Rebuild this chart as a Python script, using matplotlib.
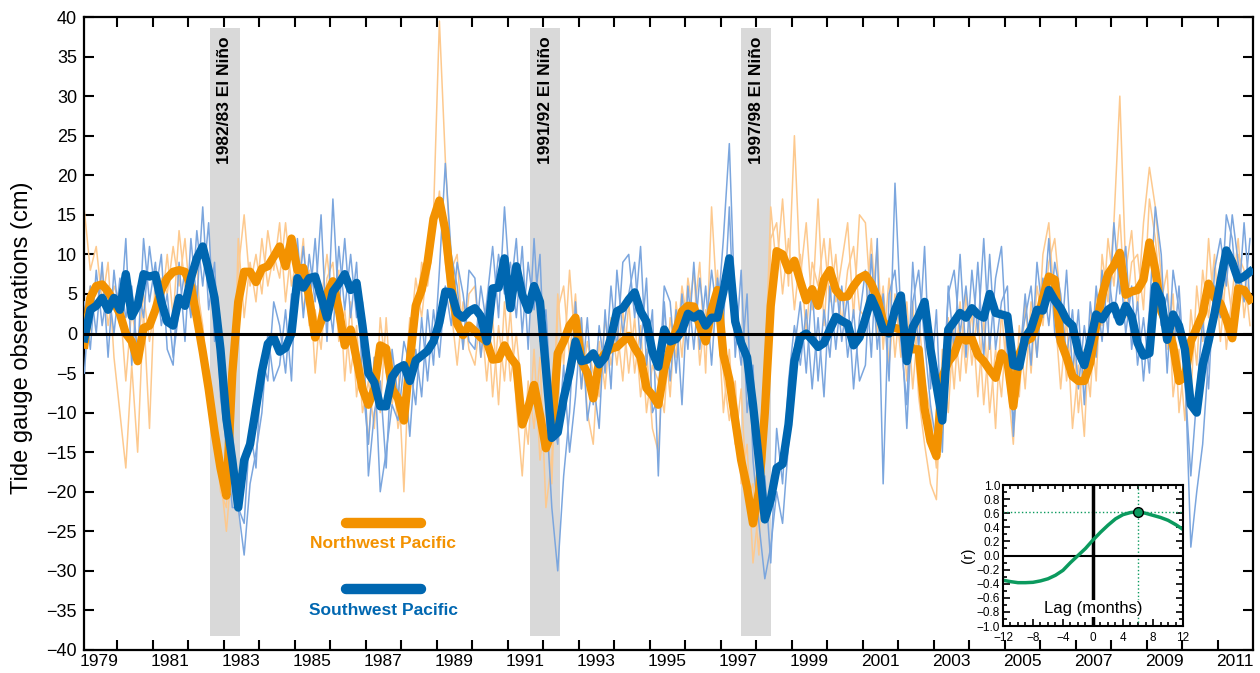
import numpy as np
import matplotlib.pyplot as plt
from matplotlib.ticker import MultipleLocator, FixedLocator, FuncFormatter

plt.rcParams['font.family'] = ['Liberation Sans', 'DejaVu Sans']

# Tide gauge anomalies (cm), one sample every two months from Feb 1979
nw_mean = [
    -1.4, 4.5, 6.0, 6.2, 5.3, 4.0, 2.5, 0.0, -1.0, -3.5, 0.7, 1.0, 3.0, 5.5, 7.0, 7.8, 8.0,
    7.8, 6.0, 2.0, -2.3, -7.0, -12.4, -17.0, -20.5, -5.0, 4.0, 7.8, 7.8, 6.5, 8.2, 8.5, 9.7,
    11.0, 8.5, 12.0, 8.0, 8.3, 4.5, -0.5, 1.5, 5.0, 6.6, 3.0, -1.5, 0.5, -3.2, -7.0, -9.0, -7.0,
    -1.5, -1.9, -7.0, -8.2, -11.0, -3.5, 3.5, 5.5, 9.0, 14.5, 16.8, 13.0, 6.1, 1.2, -0.2, 1.0,
    0.3, -0.5, -1.0, -3.3, -3.2, -1.5, -3.0, -4.0, -11.5, -9.4, -6.5, -10.3, -14.5, -12.5, -2.5, -1.0, 1.0,
    2.0, -3.5, -5.0, -8.2, -3.5, -2.5, -1.9, -1.7, -1.0, -0.3, -1.8, -3.0, -6.9, -7.8, -9.0, -4.5,
    -1.9, 0.4, 2.8, 3.5, 3.4, 1.0, -1.0, 3.0, 5.5, -2.7, -5.8, -11.0, -16.0, -19.5, -24.0, -20.0, -10.0,
    3.5, 10.4, 10.0, 8.0, 9.2, 6.6, 4.2, 5.6, 3.5, 6.8, 8.0, 5.5, 4.6, 4.7, 6.0, 7.0,
    7.4, 6.3, 4.5, 1.5, 0.7, 0.7, 0.5, -0.8, -2.0, -2.0, -9.5, -13.6, -15.5, -5.5, -3.6, -2.6, -0.4,
    -0.9, -0.7, -2.7, -3.5, -4.6, -5.6, -2.5, -3.5, -9.2, -2.6, -1.0, -0.6, 1.2, 4.5, 7.2, 6.8,
    -1.0, -3.0, -5.4, -6.0, -6.0, -3.7, 1.0, 4.8, 7.5, 8.6, 10.2, 4.9, 5.3, 5.5, 6.8, 11.5, 8.0,
    2.8, 1.1, -1.5, -6.0, -5.5, -1.0, 0.7, 2.5, 6.3, 4.5, 3.8, 1.8, -0.6, 5.7, 5.5, 4.3,
]
sw_mean = [
    -0.6, 3.0, 3.5, 4.5, 3.0, 4.5, 3.0, 7.5, 2.2, 3.6, 7.5, 7.2, 7.4, 4.0, 1.5, 1.0, 4.5,
    3.5, 7.0, 9.5, 11.0, 8.0, 4.5, -2.0, -10.8, -16.0, -22.0, -16.0, -14.0, -9.4, -4.8, -1.3, -0.5,
    -2.3, -1.8, 0.0, 7.0, 5.8, 7.0, 7.2, 4.7, 2.0, 5.3, 6.3, 7.5, 5.5, 6.4, 1.0, -5.0, -6.2,
    -9.2, -9.2, -5.5, -4.4, -4.0, -6.0, -3.4, -2.8, -2.2, -1.0, 1.4, 5.3, 5.2, 2.6, 2.0, 2.8,
    3.2, 2.2, -1.0, 5.7, 5.8, 9.5, 3.2, 8.5, 4.9, 3.0, 6.0, 4.0, -4.5, -13.2, -12.5, -8.2, -5.0,
    -1.0, -3.5, -3.3, -2.5, -3.9, -3.0, -0.5, 2.8, 3.2, 4.3, 5.2, 2.8, 1.5, -2.3, -4.2, 0.5,
    -1.0, -0.7, 0.4, 2.5, 2.0, 2.5, 1.0, 2.0, 2.0, 5.3, 9.5, 1.5, -1.2, -3.0, -9.0, -16.0, -23.5,
    -21.0, -17.0, -16.5, -11.5, -3.5, -0.5, 0.0, -0.8, -1.7, -1.2, 0.5, 2.1, 1.6, 1.2, -1.5, -0.5,
    1.9, 4.5, 2.8, 0.5, 0.0, 3.0, 4.8, -3.5, 0.8, 2.2, 4.0, -2.0, -6.5, -11.0, 0.5, 1.5, 2.6,
    2.0, 3.2, 2.4, 2.0, 5.0, 2.6, 2.4, 2.2, -4.0, -4.2, -0.5, 0.6, 3.0, 2.9, 5.5, 4.2,
    3.2, 1.7, 1.0, -2.3, -4.0, -1.0, 2.4, 1.8, 3.0, 3.5, 1.5, 3.5, 2.2, -1.2, -2.8, -2.5, 6.0,
    4.3, -0.8, 2.4, 1.0, -2.0, -9.0, -10.0, -4.0, -1.0, 2.5, 6.5, 10.5, 9.0, 6.8, 7.2, 7.8,
]

# individual stations
nw_gauge_a = [
    15.5, 8, 11, 4, 9, -3, -10, -17, -4, -15, 3, -12, 8, 3, 10, 2, 13,
    6, 4, 9, -4, -5, -14, -18, -25, -16, 12, 2, 9, 4, 12, 6, 10,
    7, 14, 6, 10, 3, 8, -5, 4, 10, 3, 8, -6, 4, -8, -2, -14, -3,
    -10, 2, -9, -4, -20, -1, 7, 2, 9, 15, 39.5, 22, 8, 10, -2, 5,
    6, -3, 4, -8, 1, -6, 3, -9, -18, -6, -12, -3, -22, -16, 5, -4, 8,
    -2, 2, -10, -14, -1, -7, 2, -4, 3, -5, 2, -8, -2, -12, -15, 0,
    -8, 4, -3, 7, 2, 9, -5, 16, 3, -10, -2, -14, -7, -21, -19, -28, -6,
    16, 8, 17, 6, 25, 7, 14, 3, 17, 1, 12, 4, 9, 14, 2, 15,
    14, 3, 11, -2, 7, -3, 5, -6, 4, -8, -14, -19, -21, -2, -10, 2, -6,
    5, -4, 3, -9, 0, -12, 3, -6, -14, 1, -7, 4, -3, 10, 14, 3,
    -7, 2, -12, -4, -13, 3, -6, 10, 4, 14, 30, 8, 13, 3, 14, 21, 16,
    7, -2, 5, -10, -3, -8, 6, -1, 12, 2, 9, -2, 5, 12, 2, 8,
]
nw_gauge_b = [
    2, 6, 3, 8, 1, 6, 4, -6, 3, -2, 5, -1, 4, 7, 5, 11, 6,
    12, 3, 6, 1, -8, -10, -20, -22, -8, 8, 15, 6, 10, 5, 13, 8,
    14, 4, 11, 5, 12, 1, 3, -2, 7, 9, -1, 3, -5, 1, -10, -6, -12,
    2, -5, -3, -12, -8, 2, 0, 9, 6, 12, 18, 9, 3, -4, 4, -2,
    -4, 3, -6, 2, -9, 4, -6, 0, -8, -14, -2, -16, -10, -19, 3, 6, -3,
    5, -7, -1, -5, -8, 2, -4, 1, -6, 4, -5, 1, -10, -4, -6, -10,
    2, -3, 6, 1, 8, -4, 3, 0, 8, -5, -11, -6, -19, -14, -29, -22, -16,
    12, 14, 5, 12, 3, 10, 0, 9, 6, 12, 4, 10, 1, 8, 11, 3,
    2, 12, 0, 6, -4, 5, -3, 4, -7, 2, -6, -10, -17, -9, 2, -7, 4,
    -5, 3, -8, 2, -10, -2, -8, 2, -5, -8, 4, -5, 6, 1, 9, 12,
    4, -6, 1, -10, -2, -8, 5, 1, 12, 6, 15, 2, 9, 10, 3, 17, 12,
    4, 8, -8, -2, -11, 3, -4, 8, 2, 10, -1, 8, 2, 10, 8, 1,
]
sw_gauge_a = [
    -5, 6, 0, 9, -3, 8, 1, 12, -4, 6, 2, 11, 5, 10, -2, -4, 9,
    -1, 12, 4, 16, 3, 9, -8, -14, -22, -22, -28, -19, -15, -10, 0, -6,
    -4, 3, -6, 12, 2, 10, 4, 15, -1, 17, 3, 12, 2, 9, -6, -14, -3,
    -20, -15, -9, -11, -4, -13, -2, -8, 3, -4, 8, 21.5, 10, 6, -2, 8,
    7, -3, 4, 11, 2, 16, 5, 12, 0, 9, 3, 10, -9, -22, -30, -18, -10,
    4, -7, 2, -9, 1, -5, 6, -2, 9, 10, 2, 11, -4, 3, -18, 4,
    -6, 3, -9, 6, -2, 7, 0, 8, 2, 12, 24, 2, -4, 5, -16, -24, -31,
    -27, -20, -24, -14, -2, 4, -5, 6, -6, 3, -3, 7, -1, 5, -7, 2,
    8, -3, 12, -19, 5, 8, -1, -9, 9, -2, 11, -7, 3, -15, 6, -2, 10,
    -3, 8, 0, 12, -2, 7, 11, -3, -11, -4, 5, -4, 9, 2, 12, 0,
    -2, 8, -5, 3, -9, 4, -3, 8, 0, 14, 5, 11, -2, 4, -6, 3, 16,
    10, -5, 8, 3, -4, -27, -20, -14, -3, 6, 2, 15, 12, 3, 14, 4,
]
sw_gauge_b = [
    4, -2, 8, 1, 6, 0, 7, 2, 6, -3, 12, 4, 9, 1, 5, -3, 3,
    8, 2, 13, 6, 14, -1, 1, -16, -12, -22, -24, -12, -17, -3, -6, 4,
    1, -5, 5, 4, 11, 3, 12, 1, 6, 0, 11, 3, 10, 2, 4, -18, -10,
    -6, -17, -2, -8, -1, -4, -9, 2, -6, 3, -3, 6, 1, 9, 5, -1,
    -2, 6, 1, 3, 10, 5, 9, 2, 11, -2, 12, -1, 3, -10, -14, -4, -15,
    -8, 2, -11, -6, -12, 3, -7, 8, 0, 5, 9, -2, 7, -10, -8, 6,
    4, -5, 5, -2, 9, -2, 6, -4, 7, 1, 16, -3, 8, -10, -4, -22, -18,
    -29, -12, -19, -6, 1, -4, 3, -7, 2, -8, 6, -2, 6, -3, 3, -6,
    -4, 10, -2, 5, -6, 19, 2, -12, 4, 8, -1, -9, -14, -8, 5, 8, 0,
    6, -2, 9, -3, 10, -2, 4, 6, -13, -2, 2, 6, -3, 7, 1, 9,
    5, -3, 3, -7, 1, -5, 6, -1, 8, 2, 9, 0, 6, -4, 2, -5, 10,
    1, 5, -3, 6, -6, -18, -8, 2, -7, 8, 12, 6, 15, 9, 4, 12,
]

ninos = [('1982/83 El Niño', 1982.62, 1983.45),
         ('1991/92 El Niño', 1991.63, 1992.48),
         ('1997/98 El Niño', 1997.58, 1998.42)]

# lagged correlation NW vs SW
lags = np.arange(-12, 13)
corr = [-0.35, -0.37, -0.385, -0.385, -0.38, -0.36, -0.33, -0.28, -0.21, -0.10,
        0.0, 0.10, 0.22, 0.33, 0.43, 0.52, 0.58, 0.61, 0.62, 0.60,
        0.57, 0.54, 0.50, 0.44, 0.37]
peak_lag, peak_r = 6, 0.62

orange = '#F39200'
blue = '#0067B1'
orange_lt = '#FDC98E'
blue_lt = '#7BA6DE'
green = '#0B9A5E'

t = 1979.08 + np.arange(len(nw_mean)) / 6

fig = plt.figure(figsize=(12.6, 6.73), dpi=100)
ax = fig.add_axes([0.0667, 0.0342, 0.9278, 0.9405])

for label, x0, x1 in ninos:
    ax.fill_between([x0, x1], -38.2, 38.6, color='#D9D9D9', lw=0, zorder=0)
    ax.text((x0 + x1) / 2, 37.5, label, rotation=90, ha='center', va='top',
            fontsize=12.5, fontweight='bold', zorder=1)

ax.plot(t, nw_gauge_a, color=orange_lt, lw=1.1, zorder=2)
ax.plot(t, nw_gauge_b, color=orange_lt, lw=1.1, zorder=2)
ax.plot(t, sw_gauge_a, color=blue_lt, lw=1.1, zorder=3)
ax.plot(t, sw_gauge_b, color=blue_lt, lw=1.1, zorder=3)
ax.plot(t, nw_mean, color=orange, lw=6, zorder=4)
ax.plot(t, sw_mean, color=blue, lw=6, zorder=5)
ax.axhline(0, color='black', lw=2.2, zorder=6)

# legend drawn by hand: line with caption underneath
ax.plot([1986.45, 1988.56], [-23.95, -23.95], color=orange, lw=7.5, solid_capstyle='round')
ax.text(1987.5, -26.5, 'Northwest Pacific', color=orange, fontsize=12.5,
        fontweight='bold', ha='center', va='center')
ax.plot([1986.45, 1988.56], [-32.3, -32.3], color=blue, lw=7.5, solid_capstyle='round')
ax.text(1987.5, -35.0, 'Southwest Pacific', color=blue, fontsize=12.5,
        fontweight='bold', ha='center', va='center')

ax.set_xlim(1979.07, 2012.0)
ax.set_ylim(-40, 40)
ax.xaxis.set_major_locator(FixedLocator(np.arange(1980, 2012)))
ax.xaxis.set_minor_locator(FixedLocator(np.arange(1979, 2012, 2) + 0.5))
ax.xaxis.set_major_formatter(FuncFormatter(lambda v, p: ''))
ax.xaxis.set_minor_formatter(FuncFormatter(lambda v, p: str(int(v))))
ax.set_yticks(np.arange(-40, 41, 5))
ax.tick_params(axis='x', which='major', direction='in', length=7, width=1.5,
               top=True, bottom=True)
ax.tick_params(axis='x', which='minor', length=0, labelsize=12.5, pad=3)
ax.tick_params(axis='y', direction='in', length=7, width=1.5, right=True,
               labelsize=13, pad=5)
for s in ax.spines.values():
    s.set_linewidth(1.6)
fig.text(0.0175, 0.4985, 'Tide gauge observations (cm)', rotation=90,
         ha='center', va='center', fontsize=17)

# inset: lag correlation
ins = fig.add_axes([0.796, 0.0698, 0.1429, 0.2095])
ins.axhline(peak_r, color=green, ls=':', lw=1)
ins.axvline(peak_lag, color=green, ls=':', lw=1)
ins.axhline(0, color='black', lw=1.5)
ins.axvline(0, color='black', lw=2.5)
ins.plot(lags, corr, color=green, lw=2.5)
ins.plot(peak_lag, peak_r, 'o', mfc=green, mec='black', mew=1, ms=7)
ins.text(0, -0.75, 'Lag (months)', ha='center', va='center', fontsize=12,
         bbox=dict(fc='white', ec='none', pad=1))
ins.set_xlim(-12, 12)
ins.set_ylim(-1, 1)
ins.xaxis.set_major_locator(MultipleLocator(4))
ins.xaxis.set_minor_locator(MultipleLocator(1))
ins.yaxis.set_major_locator(MultipleLocator(0.2))
ins.yaxis.set_minor_locator(MultipleLocator(0.1))
ins.xaxis.set_major_formatter(FuncFormatter(lambda v, p: f'{int(round(v))}'.replace('-', '\u2212')))
ins.yaxis.set_major_formatter(FuncFormatter(
    lambda v, p: f'{round(v, 1) + 0.0:.1f}'.replace('-', '\u2212')))
ins.tick_params(which='both', direction='in', top=True, right=True, width=1.2,
                labelsize=8.5)
ins.tick_params(axis='x', pad=4)
ins.tick_params(axis='y', pad=2)
ins.tick_params(which='major', length=5)
ins.tick_params(which='minor', length=3)
ins.set_ylabel('(r)', fontsize=11, labelpad=1)
for s in ins.spines.values():
    s.set_linewidth(1.5)

fig.savefig('out.png', dpi=100)
